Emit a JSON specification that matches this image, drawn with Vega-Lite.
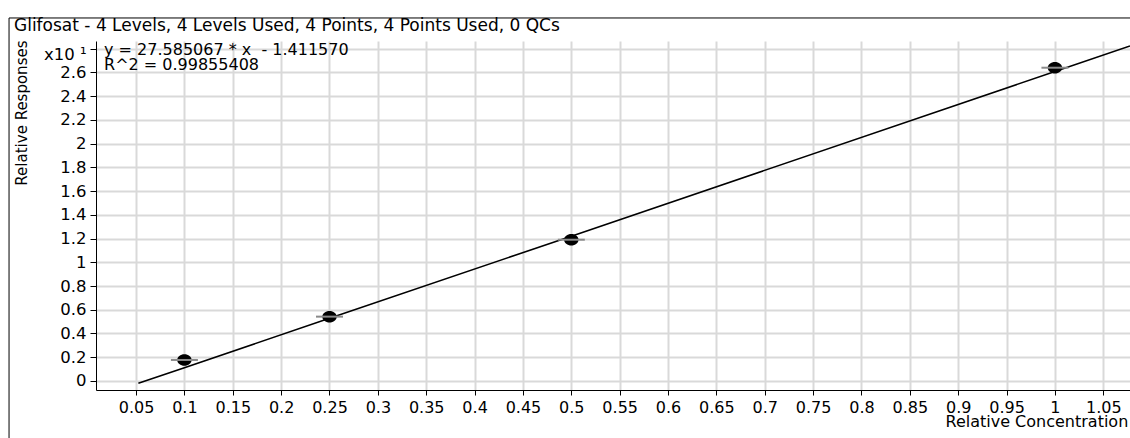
{
  "$schema": "https://vega.github.io/schema/vega-lite/v6.json",
  "width": 1034,
  "height": 349,
  "autosize": {"type": "none"},
  "padding": {"left": 96, "top": 41, "right": 0, "bottom": 48},
  "background": "white",
  "title": {
    "text": "Glifosat - 4 Levels, 4 Levels Used, 4 Points, 4 Points Used, 0 QCs",
    "anchor": "start",
    "frame": "group",
    "dx": -82,
    "dy": 31,
    "offset": 0,
    "font": "DejaVu Sans",
    "fontSize": 17,
    "fontWeight": "normal",
    "color": "black",
    "baseline": "alphabetic"
  },
  "datasets": {
    "points": [
      {"conc": 0.1, "resp": 1.77},
      {"conc": 0.25, "resp": 5.42},
      {"conc": 0.5, "resp": 11.9},
      {"conc": 1.0, "resp": 26.39}
    ],
    "fit": [
      {"conc": 0.0524, "resp": -0.19},
      {"conc": 0.1, "resp": 1.12},
      {"conc": 0.25, "resp": 5.28},
      {"conc": 0.5, "resp": 12.2},
      {"conc": 1.0, "resp": 26.07},
      {"conc": 1.0776, "resp": 28.22}
    ],
    "note": [
      {"line1": "y = 27.585067 * x\u00a0 - 1.411570", "line2": "R^2 = 0.99855408"}
    ]
  },
  "layer": [
    {
      "data": {"name": "fit"},
      "mark": {"type": "line", "color": "black", "strokeWidth": 1.6, "clip": true},
      "encoding": {
        "x": {
          "field": "conc", "type": "quantitative", "title": "Relative Concentration",
          "scale": {"domain": [0.0086, 1.0776], "nice": false, "zero": false},
          "axis": {"values": [0.05, 0.1, 0.15, 0.2, 0.25, 0.3, 0.35, 0.4, 0.45, 0.5, 0.55, 0.6, 0.65, 0.7, 0.75, 0.8, 0.85, 0.9, 0.95, 1, 1.05], "format": "~g", "tickSize": 5, "labelFontSize": 16, "labelPadding": 17, "labelBaseline": "alphabetic", "labelOverlap": false, "labelFlush": false, "titleFontSize": 16, "titleX": 849, "titleY": 36, "titleAlign": "left", "titleAnchor": "start", "titleBaseline": "alphabetic"}
        },
        "y": {
          "field": "resp", "type": "quantitative", "title": "Relative Responses",
          "scale": {"domain": [-0.76, 28.64], "nice": false, "zero": false},
          "axis": {"values": [0, 2, 4, 6, 8, 10, 12, 14, 16, 18, 20, 22, 24, 26, 28], "labelExpr": "datum.value == 28 ? 'x10 ¹' : format(datum.value / 10, '~g')", "labelOffset": {"condition": {"test": "datum.value == 28", "value": 6}, "value": 0}, "tickSize": 6, "labelFontSize": 16.5, "labelPadding": 4, "labelOverlap": false, "labelFlush": false, "titleFontSize": 15, "titleAngle": -90, "titleX": -70, "titleY": -1, "titleAlign": "right", "titleBaseline": "alphabetic"}
        }
      }
    },
    {
      "data": {"name": "note"},
      "mark": {"type": "rect", "filled": false, "color": "black", "strokeWidth": 1, "clip": false},
      "encoding": {
        "x": {
          "datum": -0.0813, "type": "quantitative", "title": "Relative Concentration",
          "scale": {"domain": [0.0086, 1.0776], "nice": false, "zero": false},
          "axis": {"values": [0.05, 0.1, 0.15, 0.2, 0.25, 0.3, 0.35, 0.4, 0.45, 0.5, 0.55, 0.6, 0.65, 0.7, 0.75, 0.8, 0.85, 0.9, 0.95, 1, 1.05], "format": "~g", "tickSize": 5, "labelFontSize": 16, "labelPadding": 17, "labelBaseline": "alphabetic", "labelOverlap": false, "labelFlush": false, "titleFontSize": 16, "titleX": 849, "titleY": 36, "titleAlign": "left", "titleAnchor": "start", "titleBaseline": "alphabetic"}
        },
        "x2": {"datum": 1.3},
        "y": {
          "datum": 30.58, "type": "quantitative", "title": "Relative Responses",
          "scale": {"domain": [-0.76, 28.64], "nice": false, "zero": false},
          "axis": {"values": [0, 2, 4, 6, 8, 10, 12, 14, 16, 18, 20, 22, 24, 26, 28], "labelExpr": "datum.value == 28 ? 'x10 ¹' : format(datum.value / 10, '~g')", "labelOffset": {"condition": {"test": "datum.value == 28", "value": 6}, "value": 0}, "tickSize": 6, "labelFontSize": 16.5, "labelPadding": 4, "labelOverlap": false, "labelFlush": false, "titleFontSize": 15, "titleAngle": -90, "titleX": -70, "titleY": -1, "titleAlign": "right", "titleBaseline": "alphabetic"}
        },
        "y2": {"datum": -8}
      }
    },
    {
      "data": {"name": "points"},
      "mark": {"type": "point", "filled": true, "shape": "M -1 0 A 1 0.8 0 1 1 1 0 A 1 0.8 0 1 1 -1 0 Z", "size": 207, "color": "black", "opacity": 1},
      "encoding": {
        "x": {
          "field": "conc", "type": "quantitative", "title": "Relative Concentration",
          "scale": {"domain": [0.0086, 1.0776], "nice": false, "zero": false},
          "axis": {"values": [0.05, 0.1, 0.15, 0.2, 0.25, 0.3, 0.35, 0.4, 0.45, 0.5, 0.55, 0.6, 0.65, 0.7, 0.75, 0.8, 0.85, 0.9, 0.95, 1, 1.05], "format": "~g", "tickSize": 5, "labelFontSize": 16, "labelPadding": 17, "labelBaseline": "alphabetic", "labelOverlap": false, "labelFlush": false, "titleFontSize": 16, "titleX": 849, "titleY": 36, "titleAlign": "left", "titleAnchor": "start", "titleBaseline": "alphabetic"}
        },
        "y": {
          "field": "resp", "type": "quantitative", "title": "Relative Responses",
          "scale": {"domain": [-0.76, 28.64], "nice": false, "zero": false},
          "axis": {"values": [0, 2, 4, 6, 8, 10, 12, 14, 16, 18, 20, 22, 24, 26, 28], "labelExpr": "datum.value == 28 ? 'x10 ¹' : format(datum.value / 10, '~g')", "labelOffset": {"condition": {"test": "datum.value == 28", "value": 6}, "value": 0}, "tickSize": 6, "labelFontSize": 16.5, "labelPadding": 4, "labelOverlap": false, "labelFlush": false, "titleFontSize": 15, "titleAngle": -90, "titleX": -70, "titleY": -1, "titleAlign": "right", "titleBaseline": "alphabetic"}
        }
      }
    },
    {
      "data": {"name": "points"},
      "mark": {"type": "tick", "orient": "horizontal", "size": 27, "thickness": 2, "color": "#8a8a8a", "opacity": 1},
      "encoding": {
        "x": {
          "field": "conc", "type": "quantitative", "title": "Relative Concentration",
          "scale": {"domain": [0.0086, 1.0776], "nice": false, "zero": false},
          "axis": {"values": [0.05, 0.1, 0.15, 0.2, 0.25, 0.3, 0.35, 0.4, 0.45, 0.5, 0.55, 0.6, 0.65, 0.7, 0.75, 0.8, 0.85, 0.9, 0.95, 1, 1.05], "format": "~g", "tickSize": 5, "labelFontSize": 16, "labelPadding": 17, "labelBaseline": "alphabetic", "labelOverlap": false, "labelFlush": false, "titleFontSize": 16, "titleX": 849, "titleY": 36, "titleAlign": "left", "titleAnchor": "start", "titleBaseline": "alphabetic"}
        },
        "y": {
          "field": "resp", "type": "quantitative", "title": "Relative Responses",
          "scale": {"domain": [-0.76, 28.64], "nice": false, "zero": false},
          "axis": {"values": [0, 2, 4, 6, 8, 10, 12, 14, 16, 18, 20, 22, 24, 26, 28], "labelExpr": "datum.value == 28 ? 'x10 ¹' : format(datum.value / 10, '~g')", "labelOffset": {"condition": {"test": "datum.value == 28", "value": 6}, "value": 0}, "tickSize": 6, "labelFontSize": 16.5, "labelPadding": 4, "labelOverlap": false, "labelFlush": false, "titleFontSize": 15, "titleAngle": -90, "titleX": -70, "titleY": -1, "titleAlign": "right", "titleBaseline": "alphabetic"}
        }
      }
    },
    {
      "data": {"name": "note"},
      "mark": {"type": "text", "align": "left", "baseline": "alphabetic", "font": "DejaVu Sans", "fontSize": 16, "lineHeight": 14.5, "color": "black"},
      "encoding": {
        "x": {
          "datum": 0.0169, "type": "quantitative", "title": "Relative Concentration",
          "scale": {"domain": [0.0086, 1.0776], "nice": false, "zero": false},
          "axis": {"values": [0.05, 0.1, 0.15, 0.2, 0.25, 0.3, 0.35, 0.4, 0.45, 0.5, 0.55, 0.6, 0.65, 0.7, 0.75, 0.8, 0.85, 0.9, 0.95, 1, 1.05], "format": "~g", "tickSize": 5, "labelFontSize": 16, "labelPadding": 17, "labelBaseline": "alphabetic", "labelOverlap": false, "labelFlush": false, "titleFontSize": 16, "titleX": 849, "titleY": 36, "titleAlign": "left", "titleAnchor": "start", "titleBaseline": "alphabetic"}
        },
        "y": {
          "datum": 27.42, "type": "quantitative", "title": "Relative Responses",
          "scale": {"domain": [-0.76, 28.64], "nice": false, "zero": false},
          "axis": {"values": [0, 2, 4, 6, 8, 10, 12, 14, 16, 18, 20, 22, 24, 26, 28], "labelExpr": "datum.value == 28 ? 'x10 ¹' : format(datum.value / 10, '~g')", "labelOffset": {"condition": {"test": "datum.value == 28", "value": 6}, "value": 0}, "tickSize": 6, "labelFontSize": 16.5, "labelPadding": 4, "labelOverlap": false, "labelFlush": false, "titleFontSize": 15, "titleAngle": -90, "titleX": -70, "titleY": -1, "titleAlign": "right", "titleBaseline": "alphabetic"}
        },
        "text": {"value": ["y = 27.585067 * x\u00a0 - 1.411570", "R^2 = 0.99855408"]}
      }
    }
  ],
  "config": {
    "view": {"stroke": null},
    "font": "DejaVu Sans",
    "axis": {
      "grid": true,
      "gridColor": "#d9d9d9",
      "gridWidth": 2,
      "domainColor": "black",
      "domainWidth": 1,
      "tickColor": "black",
      "tickWidth": 1,
      "labelFont": "DejaVu Sans",
      "labelColor": "black",
      "labelFlush": false,
      "labelOverlap": false,
      "titleFont": "DejaVu Sans",
      "titleFontWeight": "normal",
      "titleColor": "black"
    }
  }
}
